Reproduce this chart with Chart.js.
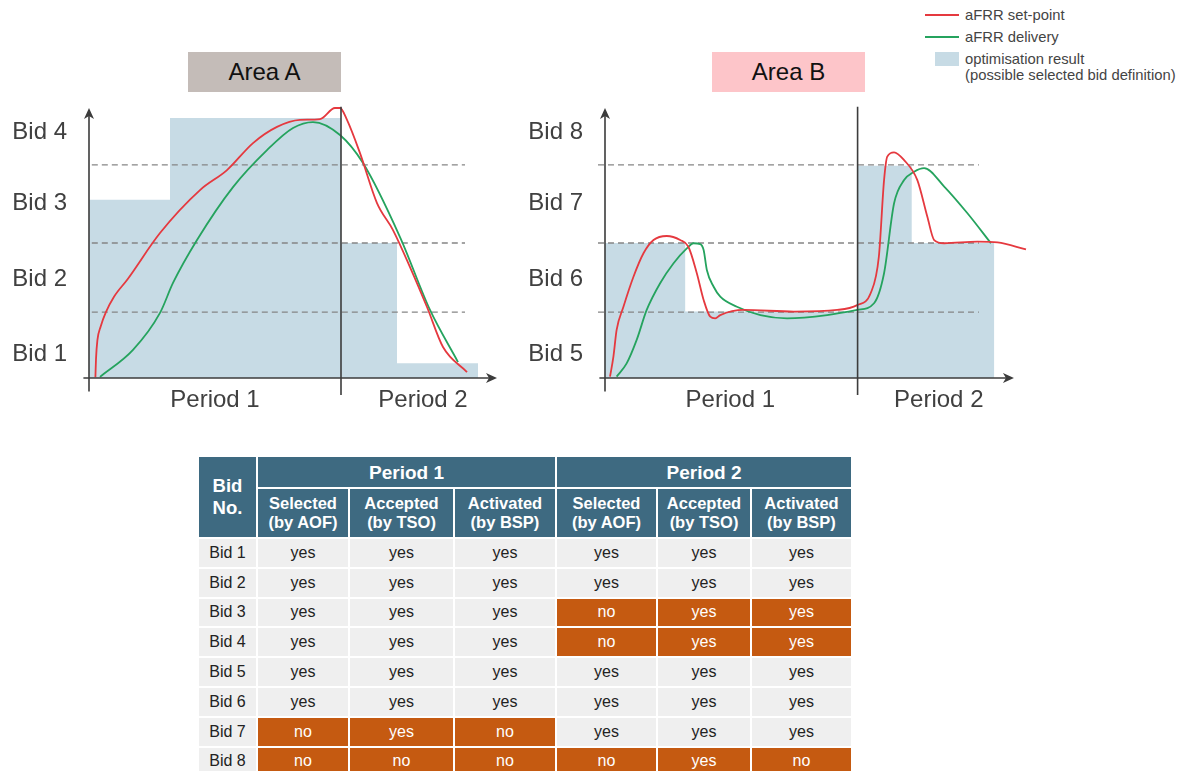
<!DOCTYPE html>
<html>
<head>
<meta charset="utf-8">
<script src="https://cdn.jsdelivr.net/npm/chart.js@4.4.1/dist/chart.umd.min.js"></script>
<style>
body { margin: 0; width: 1180px; height: 771px; position: relative; background: #fff; overflow: hidden;
       font-family: "Liberation Sans", Arial, sans-serif; }
.title { position: absolute; top: 52px; width: 153px; height: 40px; line-height: 40px; text-align: center;
         font-size: 24px; color: #111; z-index: 2; }
#titleA { left: 188px; background: #c4bcb8; }
#titleB { left: 712px; background: #fdc5c9; }
#cA { position: absolute; left: 0; top: 90px; }
#cB { position: absolute; left: 516px; top: 90px; }
.legend { position: absolute; left: 925px; top: 7px; font-size: 14.8px; color: #444; line-height: 16px; }
.legend .row { position: relative; height: 22px; padding-left: 40px; }
.legend .ln { position: absolute; left: 0; top: 7px; width: 34px; height: 2px; }
.legend .bx { position: absolute; left: 10px; top: 1px; width: 24px; height: 14px; background: rgb(199,219,229); }
table { position: absolute; left: 197px; top: 455px; border-collapse: collapse; font-size: 16px; color: #222; }
td, th { border: 2px solid #fff; text-align: center; padding: 0; }
th { background: #3e6a81; color: #fff; font-weight: bold; font-size: 16.5px; line-height: 19px; }
th.p { height: 30px; font-size: 19px; }
th.s { height: 48px; }
td { background: #efefef; height: 27.8px; }
td.o { background: #c55a11; color: #fff; }
</style>
</head>
<body>
<div class="title" id="titleA">Area A</div>
<div class="title" id="titleB">Area B</div>
<div class="legend">
  <div class="row"><div class="ln" style="background:#e5393f"></div>aFRR set-point</div>
  <div class="row"><div class="ln" style="background:#25a35e"></div>aFRR delivery</div>
  <div class="row"><div class="bx"></div>optimisation result<br>(possible selected bid definition)</div>
</div>
<canvas id="cA" width="513" height="330"></canvas>
<canvas id="cB" width="514" height="330"></canvas>
<table id="tbl"></table>
<script>
// tick labels
var periodLabels = ['Period 1', 'Period 2'];
var periodPosA = [31.5, 83.5];
var periodPosB = [31.25, 83.25];
var bidLabelsA = ['Bid 1', 'Bid 2', 'Bid 3', 'Bid 4'];
var bidLabelsB = ['Bid 5', 'Bid 6', 'Bid 7', 'Bid 8'];
var bidPos = [9.1, 36.9, 64.9, 91.4];
var bidBounds = [24.4, 50, 78.9];
var periodSplit = 63;

// optimisation result (step levels, held until next x)
var optAx = [0, 20.25, 63, 77, 97.25];
var optAy = [66, 96.3, 50, 5.5, 5.5];
var optBx = [0, 20, 63, 76.5, 97.1];
var optBy = [50, 24.6, 78.6, 50, 50];

// Area A curves
var setAx = [1.6, 1.75, 2.1, 2.9, 4.2, 6.25, 9.6, 17.75, 27.75, 34.5, 41, 47, 52.75, 57.75, 61.5, 62.75, 64.5, 67.75, 72, 76, 80.25, 84.5, 88.5, 94.5];
var setAy = [0.3, 7, 14, 19, 24.3, 30.1, 36.5, 53.7, 69.6, 77, 87, 93, 95.6, 95.9, 100, 100, 95.6, 83.3, 64.8, 54.8, 41.1, 26.3, 11.5, 2.2];
var delAx = [2.75, 11, 17.75, 21, 27, 36, 44.5, 51, 56, 62.75, 68.5, 77.75, 85.25, 92.25];
var delAy = [0.4, 10.4, 24.1, 35.2, 51.1, 70.7, 84.4, 92.6, 94.8, 90, 79.6, 52.2, 25.2, 5.9];

// Area B curves
var setBx = [1.25, 2.1, 2.9, 4.6, 7.1, 9.6, 12.1, 15.4, 18.75, 20.8, 22.9, 24.6, 26.25, 27.5, 28.75, 34.6, 47.1, 57.9, 62.9, 66.25, 68.3, 69.6, 70.4, 72.1, 74.6, 77.9, 80.4, 82.1, 84.6, 92.9, 97.9, 105];
var setBy = [0.5, 7.9, 17.8, 26.4, 37.5, 46.2, 51.1, 52.6, 51.1, 48.6, 38.8, 28.9, 22.7, 22.1, 23.3, 25.2, 24.6, 25.2, 27, 31.4, 44.9, 73.3, 82, 83.6, 80.7, 73.3, 59.7, 51.1, 49.9, 50.5, 50.2, 47.6];
var delBx = [2.9, 5.4, 7.9, 10.4, 13.75, 17.1, 20.4, 22.1, 23.75, 24.6, 25.4, 27.1, 28.75, 32.9, 38.75, 45.4, 55.4, 62.9, 67.1, 69.6, 72.1, 74.6, 77.1, 79.6, 84.6, 90.4, 96.25];
var delBy = [0.5, 5.4, 14.1, 25.2, 35.1, 42.5, 48, 49.9, 49.6, 47.4, 40, 33.8, 30.1, 26.4, 23.3, 22.1, 23.3, 25.2, 27.7, 38.8, 64.7, 73.3, 76.4, 77.7, 70.9, 61, 49.9];

// table
var tblBids = ['Bid 1', 'Bid 2', 'Bid 3', 'Bid 4', 'Bid 5', 'Bid 6', 'Bid 7', 'Bid 8'];
var tblCols = ['Selected<br>(by AOF)', 'Accepted<br>(by TSO)', 'Activated<br>(by BSP)'];
var tblRows = [
    ['yes', 'yes', 'yes', 'yes', 'yes', 'yes'],
    ['yes', 'yes', 'yes', 'yes', 'yes', 'yes'],
    ['yes', 'yes', 'yes', 'no', 'yes', 'yes'],
    ['yes', 'yes', 'yes', 'no', 'yes', 'yes'],
    ['yes', 'yes', 'yes', 'yes', 'yes', 'yes'],
    ['yes', 'yes', 'yes', 'yes', 'yes', 'yes'],
    ['no', 'yes', 'no', 'yes', 'yes', 'yes'],
    ['no', 'no', 'no', 'no', 'yes', 'no']
];
var tblHighlight = [
    [0, 0, 0, 0, 0, 0],
    [0, 0, 0, 0, 0, 0],
    [0, 0, 0, 1, 1, 1],
    [0, 0, 0, 1, 1, 1],
    [0, 0, 0, 0, 0, 0],
    [0, 0, 0, 0, 0, 0],
    [1, 1, 1, 0, 0, 0],
    [1, 1, 1, 1, 1, 1]
];
var colWidths = [59, 92, 105, 102, 101, 94, 101];

function zip(xs, ys) {
    return xs.map(function (x, i) { return { x: x, y: ys[i] }; });
}

// axes with arrows, period divider and the tick labels
var axisPlugin = {
    id: 'axisArrows',
    afterDraw: function (chart) {
        var o = chart.options.plugins.axisArrows;
        var ctx = chart.ctx, xs = chart.scales.x, ys = chart.scales.y;
        var x0 = xs.getPixelForValue(0), y0 = ys.getPixelForValue(0);
        var xTip = xs.getPixelForValue(102), yTip = ys.getPixelForValue(100);
        var xd = xs.getPixelForValue(periodSplit);
        ctx.save();
        ctx.strokeStyle = '#3c3c3c';
        ctx.fillStyle = '#3c3c3c';
        ctx.lineWidth = 1.6;
        ctx.beginPath();
        ctx.moveTo(x0, ys.getPixelForValue(-5));
        ctx.lineTo(x0, yTip + 4);
        ctx.moveTo(xs.getPixelForValue(-1.4), y0);
        ctx.lineTo(xTip - 4, y0);
        ctx.moveTo(xd, ys.getPixelForValue(100.5));
        ctx.lineTo(xd, ys.getPixelForValue(-6.3));
        ctx.stroke();
        ctx.beginPath();
        ctx.moveTo(x0, yTip);
        ctx.lineTo(x0 - 5, yTip + 11);
        ctx.lineTo(x0, yTip + 8);
        ctx.lineTo(x0 + 5, yTip + 11);
        ctx.closePath();
        ctx.fill();
        ctx.beginPath();
        ctx.moveTo(xTip, y0);
        ctx.lineTo(xTip - 11, y0 - 5);
        ctx.lineTo(xTip - 8, y0);
        ctx.lineTo(xTip - 11, y0 + 5);
        ctx.closePath();
        ctx.fill();

        ctx.fillStyle = '#404040';
        ctx.font = '24px "Liberation Sans", Arial';
        ctx.textAlign = 'right';
        ctx.textBaseline = 'middle';
        o.bidLabels.forEach(function (t, i) {
            ctx.fillText(t, x0 - 22, ys.getPixelForValue(bidPos[i]) + 1);
        });
        ctx.textAlign = 'center';
        ctx.textBaseline = 'alphabetic';
        periodLabels.forEach(function (t, i) {
            ctx.fillText(t, xs.getPixelForValue(o.periodPos[i]), y0 + 29);
        });
        ctx.restore();
    }
};

function makeChart(id, opt, setp, deliv, bidLabels, periodPos, dashFrom, dashTo) {
    var datasets = [
        { data: setp, borderColor: '#e5393f', borderWidth: 1.8, pointRadius: 0,
          cubicInterpolationMode: 'monotone', fill: false, order: 0, clip: false },
        { data: deliv, borderColor: '#25a35e', borderWidth: 1.8, pointRadius: 0,
          cubicInterpolationMode: 'monotone', fill: false, order: 1, clip: false }
    ];
    bidBounds.forEach(function (v) {
        datasets.push({ data: [{ x: dashFrom, y: v }, { x: dashTo, y: v }], borderColor: '#858585',
            borderWidth: 1.3, borderDash: [6, 4], pointRadius: 0, fill: false, order: 2, clip: false });
    });
    datasets.push({ data: opt, stepped: 'before', borderWidth: 0, borderColor: 'rgba(0,0,0,0)',
        backgroundColor: 'rgb(199,219,229)', fill: 'origin', pointRadius: 0, order: 3 });

    return new Chart(document.getElementById(id), {
        type: 'line',
        data: { datasets: datasets },
        plugins: [axisPlugin],
        options: {
            responsive: false,
            animation: false,
            devicePixelRatio: 1,
            layout: { autoPadding: false, padding: { top: 7.2, left: 89, right: 0, bottom: 42 } },
            plugins: {
                legend: { display: false }, tooltip: { enabled: false },
                axisArrows: { bidLabels: bidLabels, periodPos: periodPos }
            },
            scales: {
                x: { type: 'linear', min: 0, max: 106, display: false },
                y: { type: 'linear', min: 0, max: 104, display: false }
            }
        }
    });
}

makeChart('cA', zip(optAx, optAy), zip(setAx, setAy), zip(delAx, delAy), bidLabelsA, periodPosA, 0.7, 94);
makeChart('cB', zip(optBx, optBy), zip(setBx, setBy), zip(delBx, delBy), bidLabelsB, periodPosB, -1.75, 93.25);

// table
var tbl = document.getElementById('tbl');
var html = '<colgroup>' + colWidths.map(function (w) { return '<col style="width:' + w + 'px">'; }).join('') + '</colgroup>';
html += '<tr><th rowspan="2" style="font-size:18.5px;line-height:22px">Bid<br>No.</th><th class="p" colspan="3">Period 1</th><th class="p" colspan="3">Period 2</th></tr>';
html += '<tr>' + tblCols.concat(tblCols).map(function (c) { return '<th class="s">' + c + '</th>'; }).join('') + '</tr>';
tblBids.forEach(function (b, r) {
    html += '<tr><td>' + b + '</td>';
    tblRows[r].forEach(function (v, c) {
        html += '<td' + (tblHighlight[r][c] ? ' class="o"' : '') + '>' + v + '</td>';
    });
    html += '</tr>';
});
tbl.innerHTML = html;
</script>
</body>
</html>
